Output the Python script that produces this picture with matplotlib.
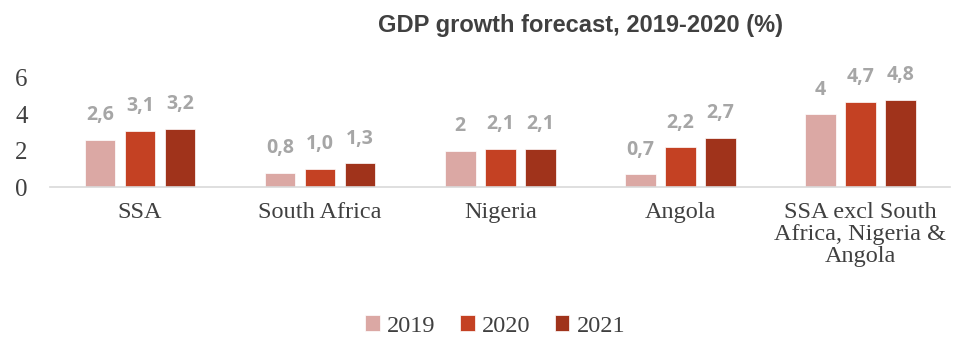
import numpy as np
import matplotlib
matplotlib.use('Agg')
import matplotlib.pyplot as plt

categories = ["SSA", "South Africa", "Nigeria", "Angola",
              "SSA excl South\nAfrica, Nigeria &\nAngola"]
years = ["2019", "2020", "2021"]
v2019 = [2.6, 0.8, 2.0, 0.7, 4.0]
v2020 = [3.1, 1.0, 2.1, 2.2, 4.7]
v2021 = [3.2, 1.3, 2.1, 2.7, 4.8]
labels2019 = ["2,6", "0,8", "2", "0,7", "4"]
labels2020 = ["3,1", "1,0", "2,1", "2,2", "4,7"]
labels2021 = ["3,2", "1,3", "2,1", "2,7", "4,8"]
colors = ["#dba8a4", "#c44123", "#a0331b"]


def main():
    fig = plt.figure(figsize=(9.62, 3.39), dpi=100)
    ax = fig.add_axes([0.052, 0.448, 0.936, 0.322])

    x = np.arange(len(categories))
    width = 0.17
    step = 0.222
    series = [v2019, v2020, v2021]
    texts = [labels2019, labels2020, labels2021]
    for i, (vals, lab) in enumerate(zip(series, texts)):
        pos = x + (i - 1) * step
        bars = ax.bar(pos, vals, width, color=colors[i], label=years[i],
                      edgecolor="white", linewidth=0.5)
        for b, t in zip(bars, lab):
            ax.text(b.get_x() + b.get_width() / 2, b.get_height() + 0.8, t,
                    ha="center", va="bottom", fontsize=14, fontweight="bold",
                    color="#a6a6a6", family="Open Sans")

    ax.set_xlim(-0.5, len(categories) - 0.5)
    ax.set_ylim(0, 6)
    ax.set_yticks([0, 2, 4, 6])
    ax.set_xticks(x)
    ax.set_xticklabels(categories, family="Liberation Serif", fontsize=17.5,
                       color="#404040", linespacing=1.05)
    for t in ax.get_yticklabels():
        t.set_family("Liberation Serif")
        t.set_fontsize(18)
        t.set_color("#404040")
    ax.tick_params(axis="y", length=0, pad=16)
    ax.tick_params(axis="x", length=0, pad=11)
    for s in ["top", "right", "left"]:
        ax.spines[s].set_visible(False)
    ax.spines["bottom"].set_color("#d9d9d9")
    ax.spines["bottom"].set_linewidth(1.2)

    fig.text(0.603, 0.926, "GDP growth forecast, 2019-2020 (%)", ha="center",
             va="center", fontsize=17, fontweight="bold", color="#404040",
             family="Liberation Sans")

    fig.legend(loc="center", bbox_to_anchor=(0.515, 0.038), ncol=3,
               frameon=False, prop={"family": "Liberation Serif", "size": 17.5},
               handlelength=0.6, handleheight=0.6, handletextpad=0.3,
               columnspacing=1.0, labelcolor="#404040")

    fig.savefig("out.png", dpi=100)


if __name__ == "__main__":
    main()
